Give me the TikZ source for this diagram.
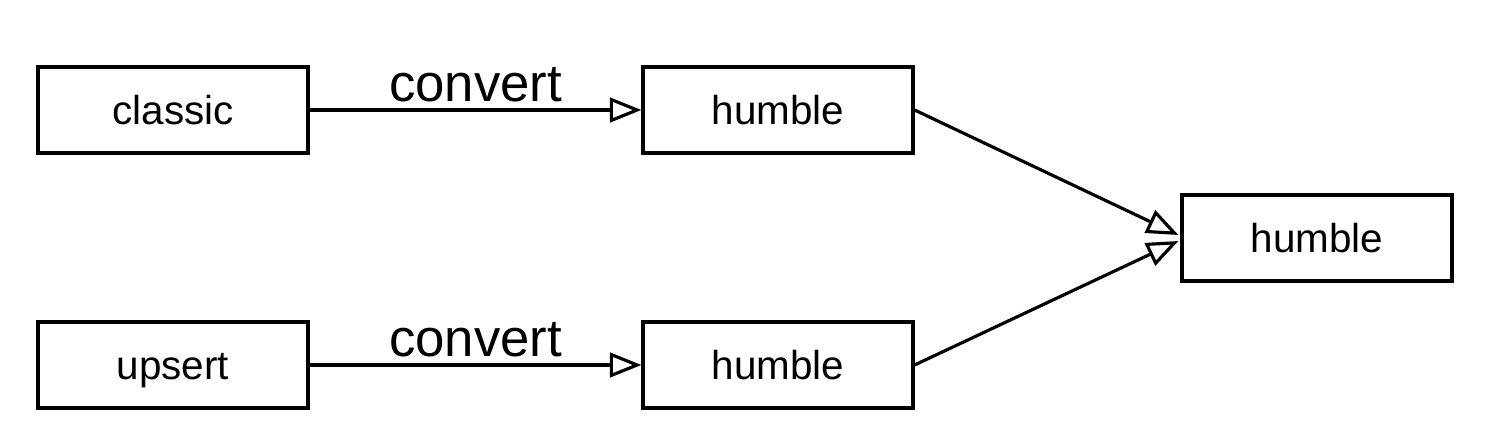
\documentclass[tikz,border=0pt]{standalone}
\usepackage{fontspec}
\setmainfont{Liberation Sans}
\usetikzlibrary{arrows.meta}
\tikzset{block/.style = {shape=rectangle,draw,line width=1.8pt,minimum width=5.4cm,minimum height=1.72cm,text height=16.6pt,text depth=0pt,font=\fontsize{23}{27}\selectfont}}
\tikzset{edge/.style = {line width=1.8pt,-{Triangle[open,length=18pt,width=14pt]}}}
\tikzset{lbl/.style = {font=\fontsize{30}{34}\selectfont,inner sep=3.5pt}}

\begin{document}
\begin{tikzpicture}
                \useasboundingbox (0,0) rectangle (29.78,-8.92);
                \node[block] (classic) at (3.46,-2.2) {classic};
                \node[block] (h1) at (15.56,-2.2) {humble};
                \draw[edge] (classic) -- (h1) node [midway, above, lbl] {convert};
                \node[block] (upsert) at (3.46,-7.3) {upsert};
                \node[block] (h2) at (15.56,-7.3) {humble};
                \draw[edge] (upsert) -- (h2) node [midway, above, lbl] {convert};
                \node[block] (h3) at (26.34,-4.76) {humble};
                \coordinate (in1) at ([xshift=-0.04cm,yshift=0.06cm]h3.west);
                \coordinate (in2) at ([xshift=-0.04cm,yshift=-0.06cm]h3.west);
                \draw[edge] (h1.east) to (in1);
                \draw[edge] (h2.east) to (in2);
            \end{tikzpicture}
\end{document}
